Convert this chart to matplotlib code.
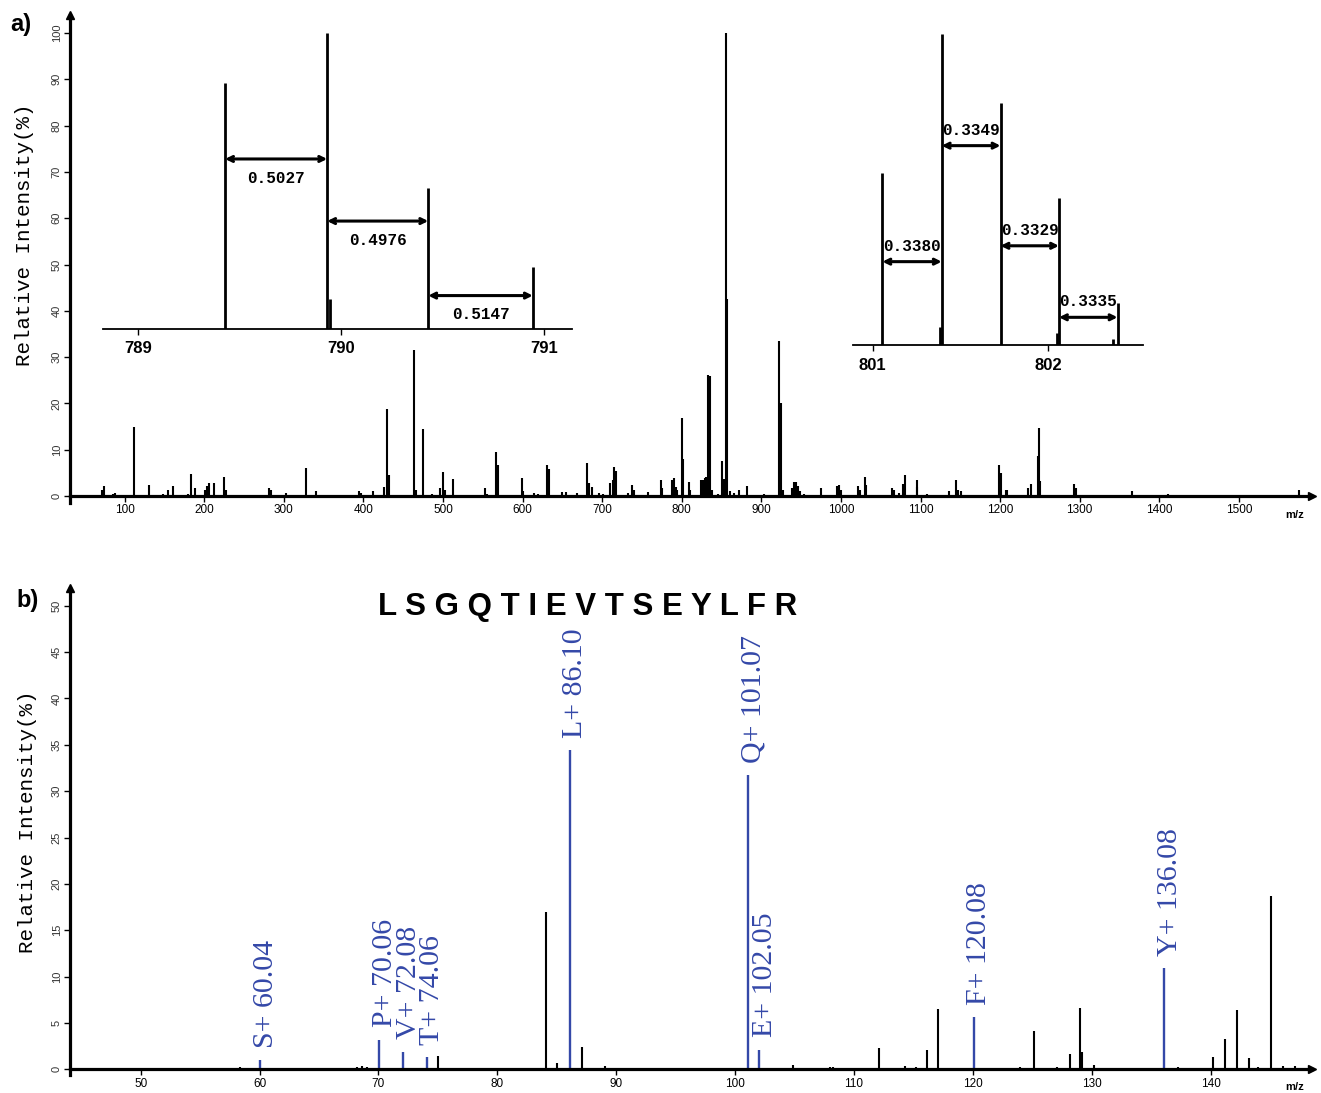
import numpy as np
import matplotlib.pyplot as plt

plt.rcParams['font.family'] = ['Liberation Sans', 'DejaVu Sans']

# ---- (a) full MS spectrum: m/z and relative intensity (%)
ms_mz = [71.3, 74.2, 86.0, 88.0, 112.0, 131.2, 148.8, 155.0, 161.3, 180.0,
         183.5, 188.2, 201.1, 203.2, 206.2, 212.4, 225.4, 227.5, 281.9, 284.0,
         302.5, 327.6, 340.6, 394.6, 397.0, 412.6, 426.0, 430.2, 431.9, 464.1,
         465.8, 474.6, 485.9, 496.4, 500.5, 502.6, 512.7, 552.9, 555.4, 566.3,
         568.8, 599.0, 600.6, 614.9, 619.9, 631.2, 633.3, 649.2, 654.6, 668.0,
         681.4, 684.0, 687.3, 696.5, 700.8, 709.9, 713.3, 715.4, 717.5, 733.0,
         738.0, 740.1, 757.3, 773.6, 775.3, 787.8, 790.0, 792.4, 794.5, 800.4,
         802.1, 808.8, 810.4, 824.3, 826.5, 829.0, 831.0, 833.6, 835.3, 838.2,
         846.0, 851.0, 853.6, 855.7, 857.4, 860.7, 866.2, 872.4, 881.7, 903.4,
         922.7, 925.2, 926.9, 938.6, 940.7, 943.2, 945.7, 948.6, 953.7, 975.0,
         994.6, 998.0, 1000.0, 1021.4, 1023.5, 1029.8, 1031.8, 1064.5, 1066.7, 1073.0,
         1078.0, 1080.1, 1095.2, 1096.0, 1107.8, 1136.3, 1144.6, 1146.7, 1150.9, 1198.7,
         1200.8, 1207.5, 1209.1, 1235.5, 1238.4, 1247.3, 1248.9, 1250.5, 1293.3, 1295.4,
         1365.3, 1411.3, 1575.2]
ms_int = [1.4, 2.1, 0.5, 0.7, 14.9, 2.4, 0.4, 1.2, 2.1, 0.5,
          4.7, 1.7, 1.2, 2.1, 2.8, 2.8, 4.2, 1.4, 1.7, 1.2,
          0.7, 6.0, 1.0, 1.0, 0.7, 1.0, 1.9, 18.9, 4.5, 31.5,
          1.4, 14.5, 0.5, 1.7, 5.2, 1.4, 3.7, 1.7, 0.5, 9.6,
          6.6, 4.0, 1.0, 0.7, 0.5, 6.8, 5.9, 0.8, 0.8, 0.7,
          7.1, 2.8, 1.9, 0.7, 0.4, 2.8, 3.5, 6.3, 5.4, 0.7,
          2.4, 1.2, 0.9, 3.4, 1.8, 3.4, 4.0, 1.9, 1.4, 16.8,
          7.9, 3.0, 1.2, 3.5, 3.5, 3.8, 4.1, 26.2, 26.0, 1.2,
          0.5, 7.6, 3.6, 100.0, 42.5, 1.0, 0.7, 1.2, 2.2, 0.4,
          33.5, 20.1, 1.4, 1.8, 3.0, 3.0, 2.1, 1.0, 0.4, 1.7,
          2.2, 2.3, 1.4, 2.2, 1.4, 4.2, 2.3, 1.8, 1.4, 0.7,
          2.7, 4.5, 3.5, 1.9, 0.4, 1.0, 3.5, 1.4, 1.0, 6.8,
          5.0, 1.2, 1.2, 1.7, 2.6, 8.6, 14.7, 3.2, 2.7, 1.7,
          1.0, 0.4, 1.2]

# isotope cluster 1 (z = 2)
iso1_mz = [789.4300, 789.9327, 790.4303, 790.9450]
iso1_int = [83.0, 100.0, 47.7, 21.0]
iso1_minor_mz = [789.945]
iso1_minor_int = [10.0]
iso1_arrow_h = [57.4, 36.4, 11.2]

# isotope cluster 2 (z = 3)
iso2_mz = [801.0550, 801.3930, 801.7279, 802.0608, 802.3943]
iso2_int = [55.4, 100.0, 77.9, 47.2, 13.6]
iso2_minor_mz = [801.383, 802.051, 802.370]
iso2_minor_int = [5.7, 3.8, 1.8]
iso2_arrow_h = [26.8, 64.1, 31.9, 8.9]

# ---- (b) MS/MS spectrum
frag_ion = ["S+", "P+", "V+", "T+", "L+", "Q+", "E+", "F+", "Y+"]
frag_mz = [60.04, 70.06, 72.08, 74.06, 86.10, 101.07, 102.05, 120.08, 136.08]
frag_int = [1.0, 3.2, 1.9, 1.3, 34.4, 31.7, 2.1, 5.6, 10.9]

msms_mz = [52.7, 55.25, 58.36, 68.2, 68.6, 69.0, 74.99, 84.07, 85.04, 87.14,
           89.06, 104.89, 107.97, 108.27, 112.14, 113.14, 114.29, 115.2, 116.1, 117.06,
           118.06, 121.02, 124.0, 125.15, 127.07, 128.16, 129.01, 129.17, 130.22, 137.24,
           140.16, 141.17, 142.17, 143.18, 143.98, 145.08, 146.08, 147.09]
msms_int = [0.2, 0.2, 0.25, 0.3, 0.4, 0.3, 1.4, 17.0, 0.7, 2.4,
            0.35, 0.45, 0.3, 0.3, 2.3, 0.2, 0.4, 0.3, 2.1, 6.5,
            0.2, 0.2, 0.3, 4.1, 0.3, 1.7, 6.6, 1.9, 0.5, 0.3,
            1.3, 3.3, 6.4, 1.2, 0.3, 18.7, 0.4, 0.35]

peptide = "LSGQTIEVTSEYLFR"
blue = "#3448a8"

W, H = 1321, 1093
fig = plt.figure(figsize=(W / 100, H / 100), dpi=100)


def px_rect(left, top, right, bottom):
    return [left / W, 1 - bottom / H, (right - left) / W, (bottom - top) / H]


def style_main(ax, xlim, ylim, xticks, yticks):
    ax.set_xlim(*xlim)
    ax.set_ylim(*ylim)
    ax.patch.set_alpha(0)
    for s in ["top", "right"]:
        ax.spines[s].set_visible(False)
    ax.spines["bottom"].set_position(("data", 0))
    ax.spines["bottom"].set_linewidth(2.3)
    ax.spines["left"].set_linewidth(2.3)
    ax.set_xticks(xticks)
    ax.set_yticks(yticks)
    ax.tick_params(axis="x", length=4, width=1, pad=2, labelsize=8.5)
    ax.tick_params(axis="y", length=4, width=1, pad=2, labelsize=8,
                   labelrotation=90, labelcolor="#333333")
    for lab in ax.get_yticklabels():
        lab.set_va("center")
    ax.plot(1, 0, marker=">", color="k", ms=6, transform=ax.get_yaxis_transform(),
            clip_on=False)
    ax.plot(xlim[0], 1, marker="^", color="k", ms=6, transform=ax.get_xaxis_transform(),
            clip_on=False)


# ---- panel a
ax1 = fig.add_axes(px_rect(70, 15, 1312, 503))
ax1.vlines(ms_mz, 0, ms_int, color="k", lw=1.5)
style_main(ax1, (31.5, 1591.8), (-1.5, 103.9), range(100, 1600, 100), range(0, 101, 10))
fig.text(1295 / W, 1 - 515 / H, "m/z", fontsize=8, fontweight="bold", ha="center", va="center")
fig.text(25 / W, 1 - 235 / H, "Relative Intensity(%)", family="Liberation Mono",
         fontsize=15, rotation=90, ha="center", va="center")
fig.text(10 / W, 1 - 25 / H, "a)", fontsize=17, fontweight="bold", va="center")


def draw_inset(rect, xlim, ticks, mz, inten, minor_mz, minor_int, arrow_h, below):
    ax = fig.add_axes(rect)
    ax.patch.set_alpha(0)
    ax.set_xlim(*xlim)
    ax.set_ylim(0, 100)
    for s in ["top", "right", "left"]:
        ax.spines[s].set_visible(False)
    ax.spines["bottom"].set_linewidth(1.3)
    ax.set_yticks([])
    ax.set_xticks(ticks)
    ax.set_xticklabels([str(t) for t in ticks])
    ax.tick_params(axis="x", length=4, width=1, pad=5, labelsize=12)
    for lab in ax.get_xticklabels():
        lab.set_fontweight("bold")
    ax.vlines(mz, 0, inten, color="k", lw=2.0)
    ax.vlines(minor_mz, 0, minor_int, color="k", lw=2.0)
    for i, h in enumerate(arrow_h):
        x1, x2 = mz[i], mz[i + 1]
        ax.annotate("", xy=(x2, h), xytext=(x1, h),
                    arrowprops=dict(arrowstyle="<->", lw=2.2, color="k",
                                    shrinkA=0, shrinkB=0, mutation_scale=9))
        ty = h - 6.5 if below else h + 5.0
        ax.text((x1 + x2) / 2, ty, f"{x2 - x1:.4f}", family="Liberation Mono",
                fontweight="bold", fontsize=11.5, ha="center", va="center")
    return ax


draw_inset(px_rect(103, 33, 572, 328.7), (788.829, 791.138), [789, 790, 791],
           iso1_mz, iso1_int, iso1_minor_mz, iso1_minor_int, iso1_arrow_h, True)
draw_inset(px_rect(852.7, 34, 1143.3, 345), (800.886, 802.541), [801, 802],
           iso2_mz, iso2_int, iso2_minor_mz, iso2_minor_int, iso2_arrow_h, False)

# ---- panel b
ax2 = fig.add_axes(px_rect(70, 588, 1312, 1075))
ax2.vlines(msms_mz, 0, msms_int, color="k", lw=1.5)
ax2.vlines(frag_mz, 0, frag_int, color=blue, lw=1.7)
for ion, m, v in zip(frag_ion, frag_mz, frag_int):
    ax2.annotate(f"{ion} {m:.2f}", xy=(m, v), xytext=(4, 9), textcoords="offset points",
                 rotation=90, ha="center", va="bottom", color=blue,
                 family="Liberation Serif", fontsize=21.5)
style_main(ax2, (44.06, 148.52), (-0.6, 51.9), range(50, 141, 10), range(0, 51, 5))
fig.text(1295 / W, 1 - 1087 / H, "m/z", fontsize=8, fontweight="bold", ha="center", va="center")
fig.text(28 / W, 1 - 822 / H, "Relative Intensity(%)", family="Liberation Mono",
         fontsize=15, rotation=90, ha="center", va="center")
fig.text(16 / W, 1 - 600 / H, "b)", fontsize=17, fontweight="bold", va="center")
fig.text(588 / W, 1 - 607 / H, " ".join(peptide), fontsize=22.5, fontweight="bold",
         ha="center", va="center")

fig.savefig("out.png", dpi=100)
